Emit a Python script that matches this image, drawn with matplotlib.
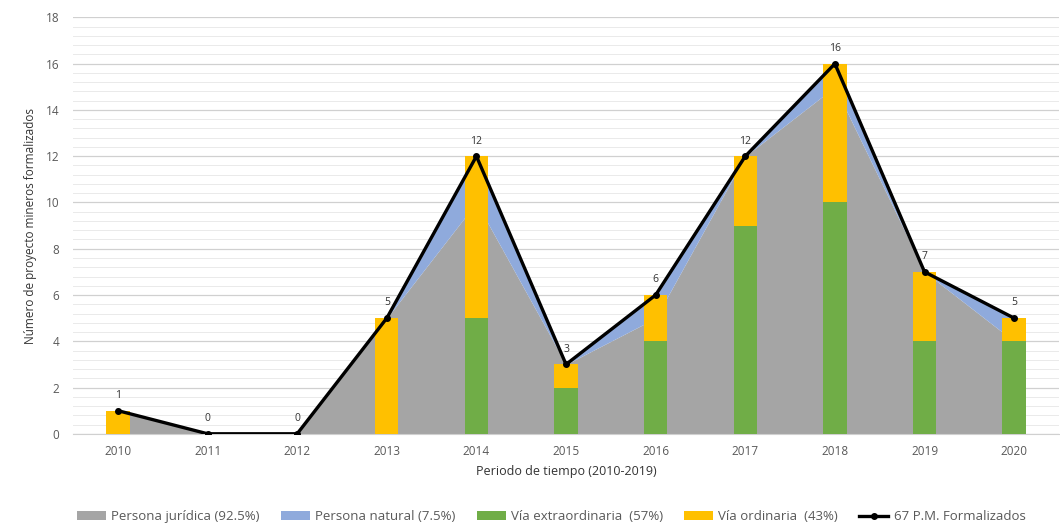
import matplotlib
matplotlib.use("Agg")
import matplotlib.pyplot as plt
import numpy as np
from matplotlib.ticker import MultipleLocator

years = ["2010", "2011", "2012", "2013", "2014", "2015", "2016", "2017", "2018", "2019", "2020"]
persona_juridica = [1, 0, 0, 5, 10, 3, 5, 12, 15, 7, 4]
persona_natural = [0, 0, 0, 0, 2, 0, 1, 0, 1, 0, 1]
via_extraordinaria = [0, 0, 0, 0, 5, 2, 4, 9, 10, 4, 4]
via_ordinaria = [1, 0, 0, 5, 7, 1, 2, 3, 6, 3, 1]
total = [1, 0, 0, 5, 12, 3, 6, 12, 16, 7, 5]

labels = ["Persona jurídica (92.5%)", "Persona natural (7.5%)", "Vía extraordinaria  (57%)",
          "Vía ordinaria  (43%)", "67 P.M. Formalizados"]

plt.rcParams['font.family'] = ['Open Sans', 'DejaVu Sans']
txt = "#595959"

fig = plt.figure(figsize=(10.6, 5.29), dpi=100)
ax = fig.add_axes([0.069, 0.18, 0.93, 0.787])

x = np.arange(len(years))
a1 = ax.fill_between(x, 0, persona_juridica, color="#A5A5A5", lw=0, zorder=2)
top = np.array(persona_juridica) + np.array(persona_natural)
a2 = ax.fill_between(x, persona_juridica, top, color="#8FAADC", lw=0, zorder=2)

w = 0.26
b1 = ax.bar(x, via_extraordinaria, w, color="#70AD47", zorder=3)
b2 = ax.bar(x, via_ordinaria, w, bottom=via_extraordinaria, color="#FFC000", zorder=3)

l1, = ax.plot(x, total, color="black", lw=2.4, marker="o", ms=4, zorder=4)
for xi, t in zip(x, total):
    ax.annotate(str(t), (xi, t), xytext=(0, 7), textcoords="offset points",
                ha="center", va="bottom", fontsize=7.5, color="#333333", zorder=5)

ax.set_xlim(-0.5, len(years) - 0.5)
ax.set_ylim(0, 18)
ax.yaxis.set_major_locator(MultipleLocator(2))
ax.yaxis.set_minor_locator(MultipleLocator(0.4))
ax.grid(axis="y", which="major", color="#D0D0D0", lw=0.9, zorder=0)
ax.grid(axis="y", which="minor", color="#EAEAEA", lw=0.7, zorder=0)
ax.set_axisbelow(True)
for s in ["top", "right", "left"]:
    ax.spines[s].set_visible(False)
ax.spines["bottom"].set_color("#D0D0D0")
ax.set_xticks(x)
ax.set_xticklabels(years)
ax.tick_params(axis="both", which="both", length=0, labelsize=8.5, colors=txt)
ax.tick_params(axis="x", pad=8)
ax.tick_params(axis="y", pad=10)
ax.set_xlabel("Periodo de tiempo (2010-2019)", fontsize=9, color="#333333", labelpad=5)
ax.set_ylabel("Número de proyecto mineros formalizados", fontsize=8.5, color="#333333", labelpad=6)

fig.legend([a1, a2, b1, b2, l1], labels, loc="center", bbox_to_anchor=(0.52, 0.023), ncol=5,
           frameon=False, fontsize=9.5, labelcolor=txt, handlelength=2.2, handleheight=0.6,
           columnspacing=1.6, handletextpad=0.4)

fig.savefig("out.png", dpi=100)
